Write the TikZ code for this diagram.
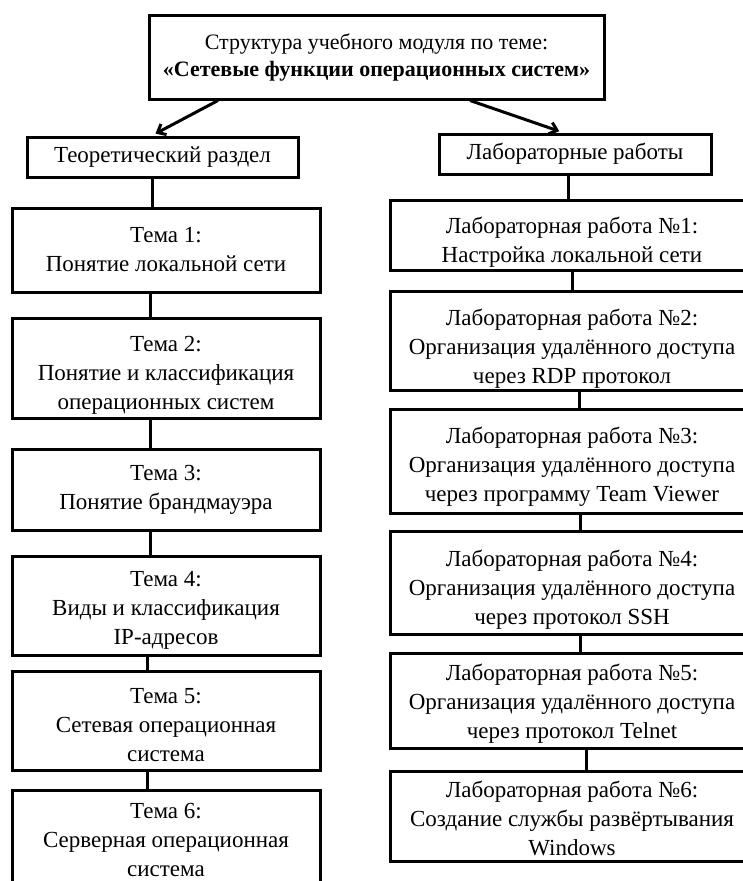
\documentclass[tikz,border=0pt]{standalone}
\usepackage{fontspec}
\setmainfont{Liberation Serif}
\usetikzlibrary{arrows.meta}

% invisible rule that raises the top of the first line, pushing the text of a box down
\newcommand{\topstrut}[1]{\rule{0pt}{#1pt}}

\tikzset{
  boxnode/.style={draw, line width=3pt, align=center, inner sep=0pt,
    font=\fontsize{23pt}{29pt}\selectfont},
  headnode/.style={boxnode, font=\fontsize{22pt}{27pt}\selectfont},
  link/.style={line width=3pt},
  arrowlink/.style={line width=3pt, -{Straight Barb[length=7pt,width=12pt,line width=3pt]}, shorten >=4pt}
}

\begin{document}
\begin{tikzpicture}[x=1pt, y=-1pt]
  \useasboundingbox (0,0) rectangle (743,881);
  \fill[white] (0,0) rectangle (743,881);
  \clip (0,0) rectangle (743,881);

  % title box
  \node[headnode, minimum width=455pt, minimum height=84pt] (top) at (376.5,57)
    {Структура учебного модуля по теме:\\\textbf{«Сетевые функции операционных систем»}};

  % section headers
  \node[boxnode, minimum width=271pt, minimum height=40pt] (th) at (162.5,157) {Теоретический раздел};
  \node[boxnode, minimum width=272pt, minimum height=40pt] (lab) at (575,154) {Лабораторные работы};

  % topics, left column
  \node[boxnode, minimum width=308pt, minimum height=84pt] (t1) at (166,250) {Тема 1:\\Понятие локальной сети};
  \node[boxnode, minimum width=308pt, minimum height=100pt] (t2) at (166,368) {\topstrut{29}Тема 2:\\Понятие и классификация\\операционных систем};
  \node[boxnode, minimum width=308pt, minimum height=81pt] (t3) at (166,489.5) {Тема 3:\\Понятие брандмауэра};
  \node[boxnode, minimum width=308pt, minimum height=99pt] (t4) at (166,605.5) {\topstrut{25}Тема 4:\\Виды и классификация\\IP-адресов};
  \node[boxnode, minimum width=308pt, minimum height=99pt] (t5) at (166,720.5) {\topstrut{25}Тема 5:\\Сетевая операционная\\система};
  \node[boxnode, minimum width=308pt, minimum height=99pt] (t6) at (166,840) {Тема 6:\\Серверная операционная\\система};

  % lab works, right column
  \node[boxnode, minimum width=364pt, minimum height=70pt] (l1) at (572,235) {\topstrut{31}Лабораторная работа №1:\\Настройка локальной сети};
  \node[boxnode, minimum width=364pt, minimum height=99pt] (l2) at (572,340.5) {\topstrut{33}Лабораторная работа №2:\\Организация удалённого доступа\\через RDP протокол};
  \node[boxnode, minimum width=364pt, minimum height=104pt] (l3) at (572,461) {\topstrut{27}Лабораторная работа №3:\\Организация удалённого доступа\\через программу Team Viewer};
  \node[boxnode, minimum width=364pt, minimum height=103pt] (l4) at (572,582.5) {\topstrut{31}Лабораторная работа №4:\\Организация удалённого доступа\\через протокол SSH};
  \node[boxnode, minimum width=364pt, minimum height=95pt] (l5) at (572,700.5) {\topstrut{23}Лабораторная работа №5:\\Организация удалённого доступа\\через протокол Telnet};
  \node[boxnode, minimum width=364pt, minimum height=90pt] (l6) at (572,816) {\topstrut{21}Лабораторная работа №6:\\Создание службы развёртывания\\Windows};

  % x positions of the connectors
  \coordinate (xa) at (218,0);
  \coordinate (xb) at (152,0);
  \coordinate (xc) at (470,0);
  \coordinate (xd) at (563,0);
  \coordinate (x150) at (150,0);
  \coordinate (x147) at (147,0);
  \coordinate (x568) at (568,0);
  \coordinate (x572) at (572,0);
  \coordinate (x579) at (579,0);
  \coordinate (x580) at (580,0);
  \coordinate (x586) at (586,0);

  % arrows from the title
  \draw[arrowlink] (top.south -| xa) -- (th.north -| xb);
  \draw[arrowlink] (top.south -| xc) -- (lab.north -| xd);

  % left chain
  \draw[link] (th.south -| xb) -- (t1.north -| xb);
  \draw[link] (t1.south -| x150) -- (t2.north -| x150);
  \draw[link] (t2.south -| x150) -- (t3.north -| x150);
  \draw[link] (t3.south -| x150) -- (t4.north -| x150);
  \draw[link] (t4.south -| x147) -- (t5.north -| x147);
  \draw[link] (t5.south -| x147) -- (t6.north -| x147);

  % right chain
  \draw[link] (lab.south -| x568) -- (l1.north -| x568);
  \draw[link] (l1.south -| x572) -- (l2.north -| x572);
  \draw[link] (l2.south -| x579) -- (l3.north -| x579);
  \draw[link] (l3.south -| x580) -- (l4.north -| x580);
  \draw[link] (l4.south -| x580) -- (l5.north -| x580);
  \draw[link] (l5.south -| x586) -- (l6.north -| x586);
\end{tikzpicture}
\end{document}
